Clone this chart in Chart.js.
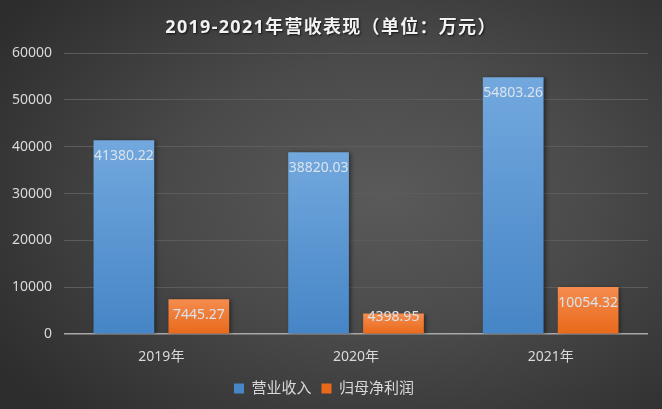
<!DOCTYPE html>
<html>
<head>
<meta charset="utf-8">
<script src="https://cdn.jsdelivr.net/npm/chart.js@4.4.1/dist/chart.umd.min.js"></script>
<style>
  html, body { margin: 0; padding: 0; }
  #wrap {
    width: 662px; height: 409px; position: relative;
    background: radial-gradient(ellipse 70% 75% at 58% 48%, #5a5a5a 0%, #4a4a4a 45%, #2d2d2d 100%);
  }
</style>
</head>
<body>
<div id="wrap"><canvas id="c" width="662" height="409"></canvas></div>
<script>
const titleText = "2019-2021年营收表现（单位：万元）";
const years = ["2019年", "2020年", "2021年"];
const revenue = [41380.22, 38820.03, 54803.26];
const netProfit = [7445.27, 4398.95, 10054.32];
const seriesNames = ["营业收入", "归母净利润"];

const FONT = "'Noto Sans', 'Noto Sans CJK SC', sans-serif";

function barGradient(top, bottom) {
  return ctx => {
    const chart = ctx.chart;
    if (!chart.chartArea || ctx.type !== "data") return top;
    const y = chart.scales.y;
    const y0 = y.getPixelForValue(ctx.raw);
    const y1 = y.getPixelForValue(0);
    const g = chart.ctx.createLinearGradient(0, y0, 0, y1);
    g.addColorStop(0, top);
    g.addColorStop(1, bottom);
    return g;
  };
}

// title drawn by hand so it can have letter spacing + shadow
const titlePlugin = {
  id: "titleText",
  afterDraw(chart) {
    const c = chart.ctx;
    c.save();
    c.font = "bold 18px " + FONT;
    c.letterSpacing = "1.3px";
    c.textAlign = "center";
    c.textBaseline = "middle";
    c.shadowColor = "rgba(0,0,0,0.7)";
    c.shadowOffsetX = 1;
    c.shadowOffsetY = 1;
    c.shadowBlur = 2;
    c.fillStyle = "#f2f2f2";
    c.fillText(titleText, chart.width / 2, 28);
    c.restore();
  }
};

const shadowPlugin = {
  id: "barShadow",
  beforeDatasetsDraw(chart) {
    const c = chart.ctx;
    c.save();
    c.shadowColor = "rgba(0,0,0,0.45)";
    c.shadowOffsetX = 2;
    c.shadowOffsetY = 1;
    c.shadowBlur = 4;
  },
  afterDatasetsDraw(chart) {
    chart.ctx.restore();
  }
};

// value labels inside the top of each bar
const labelPlugin = {
  id: "valueLabels",
  afterDatasetsDraw(chart) {
    const c = chart.ctx;
    const base = chart.scales.y.getPixelForValue(0);
    c.save();
    c.font = "14px " + FONT;
    c.textAlign = "center";
    c.textBaseline = "middle";
    c.fillStyle = "#dbe3ec";
    chart.data.datasets.forEach((ds, i) => {
      chart.getDatasetMeta(i).data.forEach((bar, j) => {
        const y = Math.min(bar.y + 16, base - 17);
        c.fillText(ds.data[j].toFixed(2), bar.x, y);
      });
    });
    c.restore();
  }
};

new Chart(document.getElementById("c"), {
  type: "bar",
  data: {
    labels: years,
    datasets: [
      {
        label: seriesNames[0],
        data: revenue,
        backgroundColor: barGradient("#72a8de", "#4685c6"),
        barPercentage: 0.81,
        categoryPercentage: 0.77,
      },
      {
        label: seriesNames[1],
        data: netProfit,
        backgroundColor: barGradient("#f58c4e", "#e8691a"),
        barPercentage: 0.81,
        categoryPercentage: 0.77,
      }
    ]
  },
  options: {
    responsive: false,
    animation: false,
    devicePixelRatio: 1,
    layout: { padding: { left: 0, right: 14, top: 53, bottom: 3 } },
    scales: {
      x: {
        grid: { display: false },
        border: { display: false },
        ticks: { color: "#d9d9d9", font: { family: FONT, size: 14 }, padding: 6 },
      },
      y: {
        min: 0,
        max: 60000,
        ticks: {
          stepSize: 10000,
          color: "#d9d9d9",
          font: { family: FONT, size: 14 },
          padding: 12,
          callback: v => String(v),
        },
        grid: {
          drawTicks: false,
          color: ctx => ctx.tick && ctx.tick.value === 0 ? "#a8a8a8" : "#5c5c5c",
          lineWidth: ctx => ctx.tick && ctx.tick.value === 0 ? 1.5 : 1,
        },
        border: { display: false },
      }
    },
    plugins: {
      title: { display: false },
      tooltip: { enabled: false },
      legend: {
        position: "bottom",
        labels: {
          boxWidth: 10,
          boxHeight: 10,
          padding: 10,
          color: "#d9d9d9",
          font: { family: FONT, size: 15 },
        }
      }
    }
  },
  plugins: [titlePlugin, shadowPlugin, labelPlugin]
});
</script>
</body>
</html>
